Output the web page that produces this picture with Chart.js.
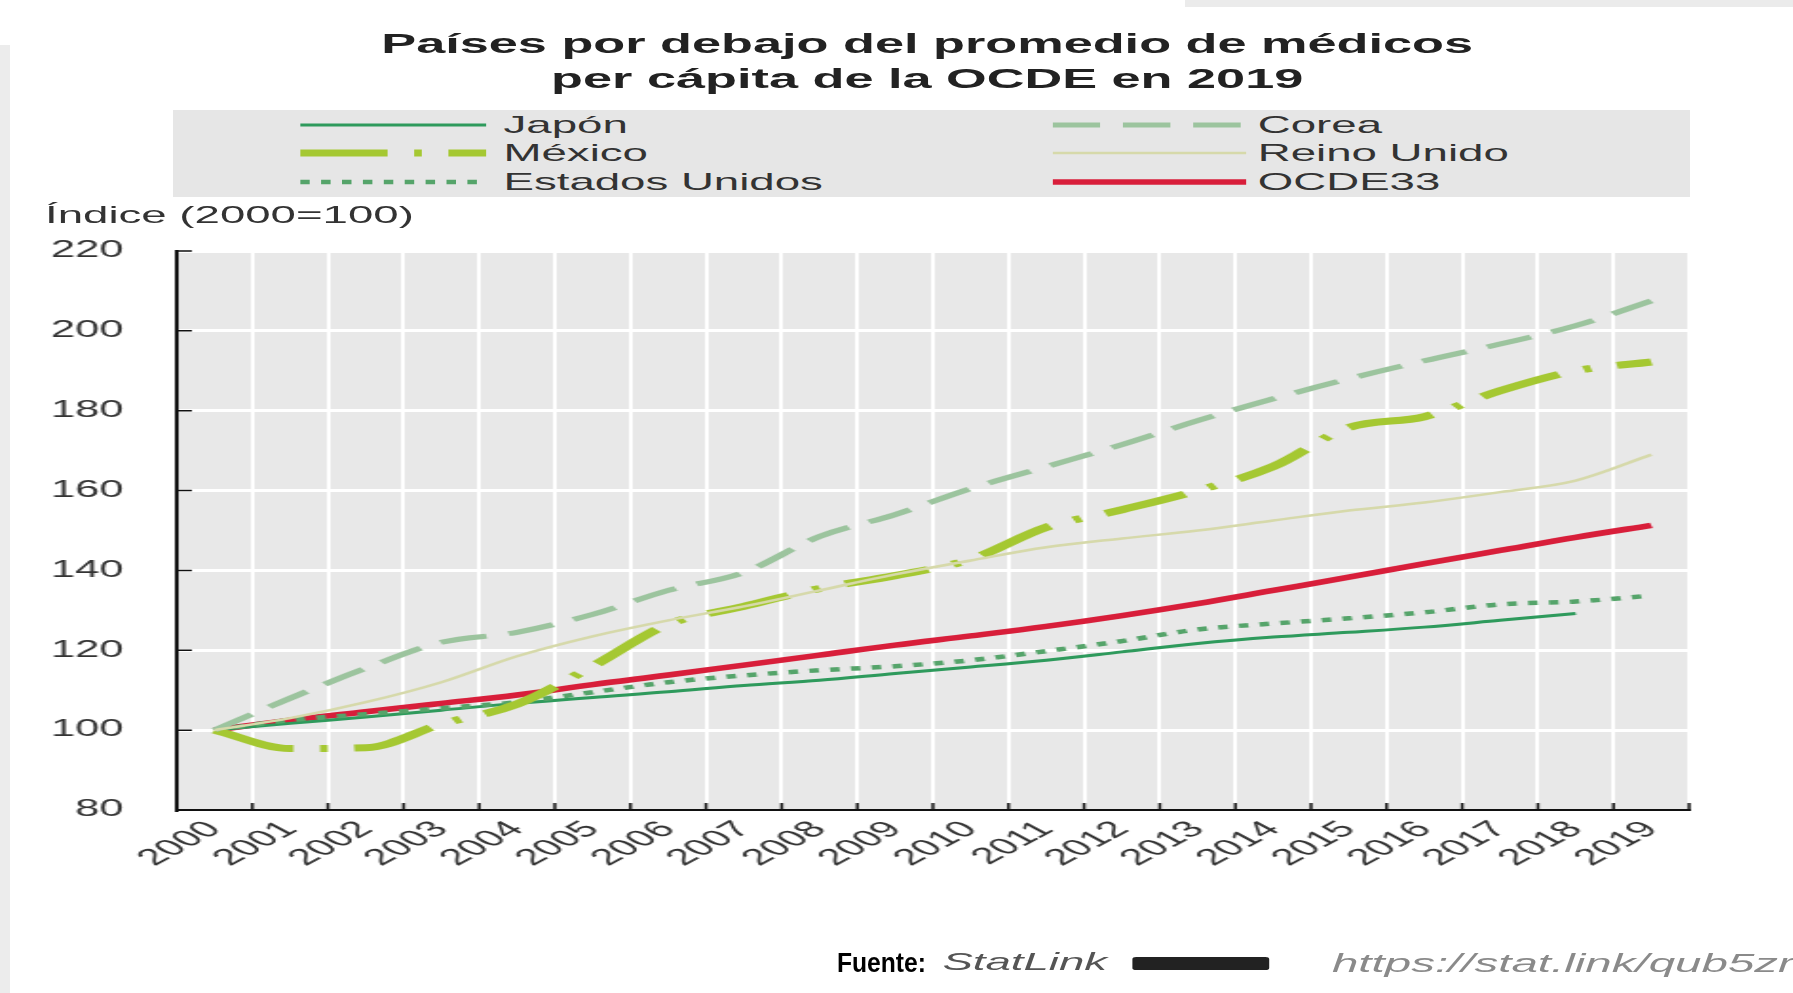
<!DOCTYPE html>
<html lang="es">
<head>
<meta charset="utf-8">
<script src="https://cdn.jsdelivr.net/npm/chart.js@4.4.0/dist/chart.umd.min.js"></script>
<style>
    body { margin: 0; width: 1793px; height: 993px; overflow: hidden; background: #fff; position: relative; font-family: "Liberation Sans", Arial, sans-serif; }
    /* la figure d'origine est étirée horizontalement */
    #stage { position: absolute; left: 0; top: 0; width: 944px; height: 993px; transform: scaleX(1.9); transform-origin: 0 0; }
    #chart { position: absolute; left: 0; top: 0; }
    .title { position: absolute; left: 0; width: 976px; text-align: center; font-weight: bold; font-size: 27.5px; line-height: 1; color: #222; white-space: nowrap; }
    .txt { position: absolute; white-space: nowrap; line-height: 1; }
    #legendBox { position: absolute; left: 91px; top: 110px; width: 798px; height: 87px; background: #e6e6e6; }
</style>
</head>
<body>
<div style="position:absolute;left:0;top:45px;width:10px;height:948px;background:#ececec"></div>
<div style="position:absolute;left:1185px;top:0;width:608px;height:7px;background:#ebebeb"></div>

<div id="stage">
    <canvas id="chart" width="944" height="993"></canvas>
    <div class="title" style="top:29.7px">Países por debajo del promedio de médicos</div>
    <div class="title" style="top:64.7px">per cápita de la OCDE en 2019</div>
    <div id="legendBox"></div>
    <div id="legend"></div>
    <div class="txt" style="left:23.7px;top:202.7px;font-size:24px;color:#333">Índice (2000=100)</div>
    <div class="txt" style="left:496px;top:949.7px;font-size:24px;font-style:italic;color:#555">StatLink</div>
    <div style="position:absolute;left:596px;top:957px;width:72px;height:13px;background:#222;border-radius:2px"></div>
    <div class="txt" style="left:701px;top:950.8px;font-size:25px;font-style:italic;color:#8a8a8a">https://stat.link/qub5zr</div>
</div>
<div class="txt" style="left:837px;top:949.3px;font-size:28px;font-weight:bold;color:#000;transform:scaleX(0.88);transform-origin:0 0">Fuente:</div>

<script>
// Données (indice 2000 = 100)
const years = ['2000', '2001', '2002', '2003', '2004', '2005', '2006', '2007', '2008', '2009',
               '2010', '2011', '2012', '2013', '2014', '2015', '2016', '2017', '2018', '2019'];
const japon  = [100, 101.7, 103.3, 105, 106.7, 108.2, 109.6, 111.2, 112.5, 114.2, 115.8, 117.5, 119.6, 121.7, 123.3, 124.5, 125.8, 127.5, 129.2, null];
const corea  = [100, 108, 115.5, 122, 124.5, 129, 135, 139.5, 148.5, 154, 160.5, 166, 171.5, 177.5, 183, 188, 192.5, 196.7, 201.3, 207.5];
const mexico = [100, 95.4, 95.6, 101.5, 106.5, 116, 126.5, 131, 135.5, 138.7, 142.8, 150.8, 155.2, 160, 166, 175.8, 178.5, 185, 190, 192.2];
const reinoUnido = [100, 103, 107, 112, 118.5, 123.5, 127.5, 131, 135, 139, 142.5, 145.8, 148, 150, 152.5, 155, 157, 159.6, 162.5, 169];
const estadosUnidos = [100, 102.5, 104, 105.5, 107, 109.5, 112, 113.7, 115, 116, 117.5, 119.8, 122.3, 125.2, 126.7, 128, 129.5, 131.5, 132.2, 133.7];
const ocde33 = [100, 102.5, 104.6, 106.7, 108.8, 111.4, 113.8, 116.3, 118.8, 121.3, 123.6, 126, 128.7, 131.7, 135, 138.3, 141.7, 145, 148.3, 151.3];
const yTicks = [80, 100, 120, 140, 160, 180, 200, 220];

const series = {
    japon:  { label: 'Japón', data: japon, borderColor: '#2e9a5c', borderWidth: 3, borderDash: [] },
    corea:  { label: 'Corea', data: corea, borderColor: '#9cc49e', borderWidth: 5, borderDash: [25, 12] },
    mexico: { label: 'México', data: mexico, borderColor: '#a5c832', borderWidth: 7, borderDash: [46, 14, 4, 14] },
    ru:     { label: 'Reino Unido', data: reinoUnido, borderColor: '#d6d9aa', borderWidth: 2.5, borderDash: [] },
    eu:     { label: 'Estados Unidos', data: estadosUnidos, borderColor: '#55a46a', borderWidth: 4.5, borderDash: [5, 6] },
    ocde:   { label: 'OCDE33', data: ocde33, borderColor: '#d81e3a', borderWidth: 5.5, borderDash: [] }
};

Chart.defaults.font.family = '"Liberation Sans", Arial, sans-serif';

// Fond gris de la zone de tracé
const plotBackground = {
    id: 'plotBackground',
    beforeDraw(chart) {
        const { ctx, chartArea: a } = chart;
        ctx.save();
        ctx.fillStyle = '#e8e8e8';
        ctx.fillRect(a.left, a.top, a.right - a.left, a.bottom - a.top);
        ctx.restore();
    }
};

// Petites graduations tournées vers l'intérieur
const innerTicks = {
    id: 'innerTicks',
    afterDraw(chart) {
        const { ctx, chartArea: a, scales } = chart;
        ctx.save();
        ctx.strokeStyle = '#111';
        ctx.lineWidth = 1.5;
        ctx.beginPath();
        yTicks.forEach(v => {
            const py = scales.y.getPixelForValue(v);
            ctx.moveTo(a.left, py);
            ctx.lineTo(a.left + 8, py);
        });
        const half = (scales.x.getPixelForValue(1) - scales.x.getPixelForValue(0)) / 2;
        for (let i = 0; i <= years.length; i++) {
            const px = scales.x.getPixelForValue(i) - half;
            ctx.moveTo(px, a.bottom);
            ctx.lineTo(px, a.bottom - 7);
        }
        ctx.stroke();
        ctx.restore();
    }
};

const order = ['ru', 'corea', 'mexico', 'eu', 'japon', 'ocde'];

new Chart(document.getElementById('chart'), {
    type: 'line',
    data: {
        labels: years,
        datasets: order.map(k => ({
            ...series[k],
            fill: false,
            pointRadius: 0,
            cubicInterpolationMode: 'monotone',
            borderCapStyle: 'butt'
        }))
    },
    options: {
        responsive: false,
        animation: false,
        layout: { padding: { left: 0, right: 55, top: 251, bottom: 0 } },
        plugins: { legend: { display: false }, tooltip: { enabled: false } },
        scales: {
            x: {
                type: 'category',
                offset: true,
                afterFit: s => { s.height = 183; },
                grid: { offset: true, color: '#ffffff', lineWidth: 2, drawTicks: false },
                border: { display: true, color: '#111', width: 2 },
                ticks: { autoSkip: false, maxRotation: 45, minRotation: 45, padding: 6, color: '#333', font: { size: 23 } }
            },
            y: {
                min: 80,
                max: 220,
                afterFit: s => { s.width = 93; },
                grid: { color: '#ffffff', lineWidth: 3, drawTicks: false },
                border: { display: true, color: '#111', width: 2 },
                ticks: { stepSize: 20, padding: 28, color: '#333', font: { size: 23 } }
            }
        }
    },
    plugins: [plotBackground, innerTicks]
});

// Légende sur deux colonnes
function buildLegend() {
    const legend = document.getElementById('legend');
    const cols = [
        { keys: ['japon', 'mexico', 'eu'], lineX: 158, lineW: 98, textX: 265 },
        { keys: ['corea', 'ru', 'ocde'], lineX: 554, lineW: 102, textX: 662 }
    ];
    const rowMid = [125, 153.4, 181.7];
    const rowBase = [133.3, 161.7, 190];

    legend.innerHTML = cols.map(col => col.keys.map((k, i) => {
        const s = series[k];
        return `
            <svg style="position:absolute;left:${col.lineX}px;top:${rowMid[i] - 6}px" width="${col.lineW}" height="12">
                <line x1="0" y1="6" x2="${col.lineW}" y2="6" stroke="${s.borderColor}" stroke-width="${s.borderWidth}"
                      stroke-dasharray="${s.borderDash.join(' ')}" />
            </svg>
            <div class="txt" style="left:${col.textX}px;top:${rowBase[i] - 20.3}px;font-size:24px;color:#333">${s.label}</div>
        `;
    }).join('')).join('');
}

buildLegend();
</script>
</body>
</html>
